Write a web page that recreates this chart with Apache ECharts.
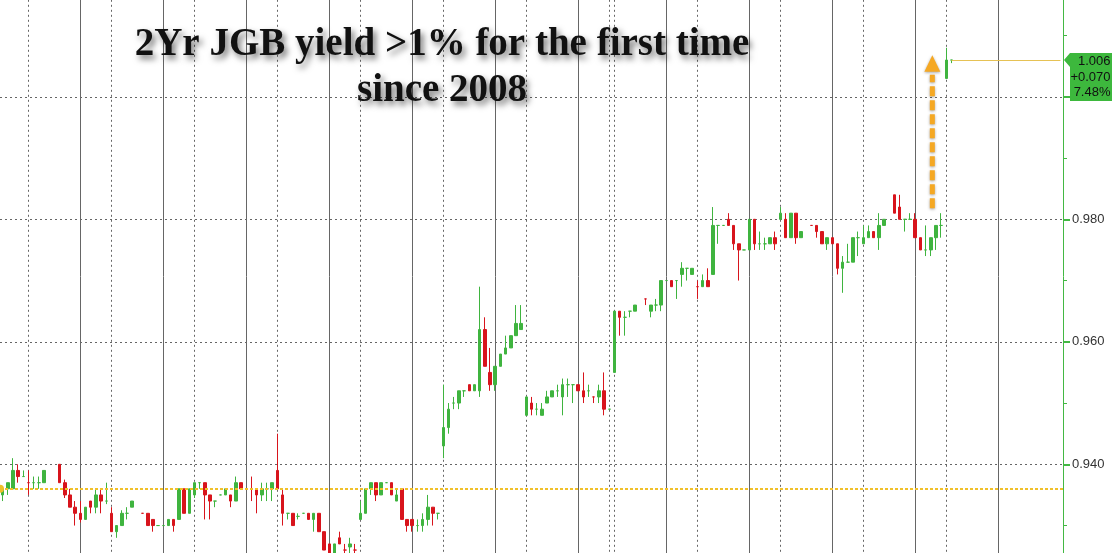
<!DOCTYPE html>
<html>
<head>
<meta charset="utf-8">
<script src="https://cdn.jsdelivr.net/npm/echarts@6/dist/echarts.min.js"></script>
<style>
html,body{margin:0;padding:0;background:#fff;}
#c{width:1112px;height:553px;}
</style>
</head>
<body>
<div id="c"></div>
<script>
// ---- data (2Yr JGB yield, intraday bars) : [open, close, low, high] ----
const ohlc = [
[0.935,0.936,0.934,0.936],[0.936,0.937,0.935,0.937],[0.936,0.939,0.936,0.941],[0.939,0.938,0.937,0.940],
[0.938,0.938,0.938,0.939],[0.937,0.937,0.935,0.939],[0.937,0.937,0.936,0.938],[0.937,0.937,0.936,0.938],
[0.937,0.939,0.937,0.939],null,null,[0.940,0.937,0.937,0.940],
[0.937,0.935,0.9345,0.9375],[0.935,0.933,0.933,0.936],[0.933,0.932,0.930,0.934],[0.932,0.931,0.9305,0.934],
[0.931,0.933,0.931,0.933],[0.934,0.933,0.932,0.934],[0.933,0.935,0.932,0.936],[0.935,0.934,0.932,0.936],
[0.934,0.934,0.9335,0.937],[0.932,0.929,0.929,0.933],[0.929,0.930,0.928,0.930],[0.930,0.932,0.930,0.9325],
[0.932,0.932,0.931,0.933],[0.933,0.934,0.933,0.934],null,[0.932,0.932,0.932,0.932],
[0.932,0.930,0.930,0.932],[0.931,0.930,0.929,0.931],[0.930,0.930,0.930,0.930],[0.930,0.930,0.930,0.930],
[0.930,0.931,0.930,0.931],[0.931,0.930,0.929,0.931],[0.931,0.936,0.931,0.936],[0.936,0.932,0.932,0.936],
[0.932,0.936,0.932,0.936],[0.935,0.937,0.9345,0.937],[0.937,0.937,0.936,0.937],[0.937,0.935,0.931,0.937],
[0.935,0.934,0.931,0.935],[0.934,0.934,0.933,0.934],[0.935,0.935,0.935,0.935],[0.935,0.936,0.935,0.936],
[0.935,0.934,0.933,0.935],[0.934,0.937,0.934,0.938],[0.937,0.936,0.936,0.937],null,
[0.936,0.936,0.934,0.938],[0.936,0.935,0.932,0.936],[0.935,0.936,0.934,0.937],[0.936,0.936,0.934,0.937],
[0.936,0.937,0.934,0.937],[0.939,0.936,0.936,0.945],[0.935,0.932,0.930,0.936],[0.932,0.932,0.931,0.932],
[0.932,0.930,0.930,0.932],[0.9315,0.9315,0.931,0.932],[0.932,0.932,0.932,0.932],[0.932,0.931,0.931,0.932],
[0.931,0.932,0.929,0.932],[0.932,0.929,0.929,0.932],[0.929,0.926,0.926,0.929],[0.927,0.925,0.925,0.927],
[0.925,0.927,0.925,0.927],[0.928,0.927,0.927,0.929],[0.926,0.926,0.925,0.927],[0.9265,0.927,0.925,0.928],
[0.926,0.926,0.925,0.927],[0.931,0.932,0.931,0.934],[0.932,0.936,0.932,0.936],[0.936,0.937,0.935,0.937],
[0.937,0.935,0.934,0.937],[0.935,0.937,0.935,0.937],[0.937,0.937,0.937,0.937],[0.937,0.935,0.935,0.937],
[0.934,0.935,0.934,0.936],[0.936,0.931,0.931,0.936],[0.931,0.930,0.929,0.931],[0.931,0.930,0.929,0.931],
[0.930,0.930,0.929,0.931],[0.930,0.931,0.929,0.932],[0.931,0.933,0.930,0.935],[0.933,0.932,0.930,0.933],
[0.932,0.932,0.931,0.932],[0.943,0.946,0.941,0.953],[0.946,0.949,0.945,0.950],[0.950,0.950,0.949,0.951],
[0.950,0.952,0.949,0.952],[0.952,0.952,0.951,0.952],[0.953,0.952,0.952,0.953],[0.952,0.953,0.952,0.953],
[0.952,0.962,0.951,0.969],[0.962,0.956,0.956,0.964],[0.955,0.953,0.952,0.959],[0.953,0.956,0.952,0.956],
[0.956,0.958,0.956,0.958],[0.958,0.959,0.958,0.961],[0.959,0.961,0.959,0.961],[0.961,0.963,0.961,0.966],
[0.962,0.963,0.962,0.966],[0.948,0.951,0.948,0.951],[0.950,0.949,0.948,0.951],[0.949,0.949,0.948,0.950],
[0.948,0.949,0.948,0.950],[0.950,0.951,0.950,0.952],[0.951,0.952,0.951,0.952],[0.952,0.952,0.951,0.953],
[0.951,0.953,0.948,0.954],[0.953,0.953,0.951,0.954],[0.953,0.953,0.950,0.953],[0.953,0.952,0.952,0.953],
[0.952,0.951,0.950,0.955],[0.952,0.952,0.951,0.953],[0.951,0.951,0.950,0.951],[0.951,0.952,0.950,0.953],
[0.952,0.949,0.948,0.955],[0.949,0.949,0.949,0.949],[0.955,0.965,0.955,0.965],[0.965,0.964,0.961,0.965],
[0.964,0.964,0.961,0.965],[0.965,0.965,0.964,0.965],[0.965,0.966,0.965,0.966],null,
[0.967,0.967,0.966,0.967],[0.965,0.966,0.964,0.966],[0.966,0.966,0.965,0.967],[0.966,0.970,0.965,0.970],
[0.970,0.970,0.970,0.970],[0.970,0.969,0.969,0.970],[0.970,0.970,0.967,0.970],[0.971,0.972,0.969,0.973],
[0.972,0.972,0.970,0.972],[0.971,0.972,0.971,0.972],[0.969,0.969,0.967,0.970],[0.969,0.970,0.969,0.971],
[0.970,0.969,0.969,0.972],[0.971,0.979,0.971,0.982],[0.979,0.979,0.976,0.979],[0.979,0.979,0.979,0.979],
[0.980,0.979,0.979,0.981],[0.979,0.976,0.975,0.979],[0.976,0.975,0.970,0.976],[0.975,0.975,0.975,0.975],
[0.975,0.980,0.975,0.980],[0.980,0.976,0.975,0.980],[0.976,0.976,0.975,0.978],[0.976,0.976,0.975,0.977],
[0.976,0.977,0.976,0.977],[0.977,0.976,0.975,0.978],[0.980,0.981,0.980,0.982],[0.980,0.977,0.977,0.981],
[0.977,0.981,0.977,0.981],[0.981,0.977,0.976,0.981],[0.977,0.978,0.977,0.978],null,
[0.979,0.979,0.979,0.979],[0.979,0.978,0.977,0.979],[0.978,0.976,0.976,0.978],[0.976,0.977,0.975,0.977],
[0.977,0.976,0.976,0.977],[0.976,0.972,0.971,0.976],[0.972,0.973,0.968,0.974],[0.973,0.973,0.973,0.976],
[0.973,0.977,0.973,0.977],[0.977,0.977,0.974,0.978],[0.976,0.977,0.976,0.979],[0.977,0.978,0.977,0.979],
[0.978,0.977,0.977,0.978],[0.977,0.979,0.975,0.981],[0.979,0.980,0.979,0.980],null,
[0.984,0.981,0.981,0.984],[0.982,0.980,0.980,0.984],[0.980,0.980,0.978,0.980],[0.980,0.980,0.980,0.981],
[0.980,0.977,0.977,0.981],[0.977,0.975,0.975,0.977],[0.975,0.975,0.974,0.979],[0.975,0.977,0.974,0.977],
[0.977,0.979,0.975,0.979],[0.979,0.979,0.977,0.981],[1.003,1.006,1.003,1.008],[1.006,1.006,1.0055,1.006]
];
const slotCount = 205;                       // bar slots on the time axis (incl. empty future slots)
const categories = Array.from({length: slotCount}, (_, i) => 'bar' + i);
const solidGridIdx  = [15,31,47,63,79,95,111,128,144,160,176,192];
const dottedGridIdx = [5,21,37,53,69,85,101,117,118,134,150,166,182];
const prevClose = 0.936;
const lastValue = 1.006;
const lastIdx = 183;
const priceBoxLines = ['1.006', '+0.070', '7.48%'];
const titleLines = ['2Yr JGB yield >1% for the first time', 'since 2008'];
const arrowSlot = 179.3, arrowFrom = 0.9818, arrowShaftTop = 1.0036, arrowHeadBase = 1.0041, arrowTip = 1.0068;
const yMin = 0.92, yMax = 1.02, yStep = 0.02;

// ---- chart ----
const GREEN = '#3fb43f', RED = '#d8141c', AXISG = '#43b843', GRID = '#666666';
const gridRight = 49;
const chart = echarts.init(document.getElementById('c'), null, {renderer: 'canvas'});
const candleData = ohlc.map(d => d ? d : ['-', '-', '-', '-']);
const vLines = solidGridIdx.map(i => ({xAxis: i, lineStyle: {color: GRID, width: 1, type: 'solid'}}))
  .concat(dottedGridIdx.map(i => ({xAxis: i, lineStyle: {color: GRID, width: 1, type: [2, 3]}})));

chart.setOption({
  animation: false,
  backgroundColor: '#ffffff',
  grid: {left: 0, right: gridRight, top: -25.7, bottom: -33.8, containLabel: false, outerBoundsMode: 'none'},
  xAxis: {
    type: 'category', data: categories, boundaryGap: true,
    axisLine: {show: false}, axisTick: {show: false}, axisLabel: {show: false}, splitLine: {show: false}
  },
  yAxis: {
    type: 'value', position: 'right', min: yMin, max: yMax, interval: yStep,
    axisLine: {show: true, lineStyle: {color: AXISG, width: 1}},
    axisTick: {show: true, length: 7, lineStyle: {color: AXISG, width: 2}},
    minorTick: {show: true, splitNumber: 2, length: 4, lineStyle: {color: AXISG, width: 1}},
    axisLabel: {color: '#333', fontSize: 13, fontFamily: 'Liberation Sans, Arial, sans-serif', margin: 9,
      formatter: v => v.toFixed(3)},
    splitLine: {show: true, lineStyle: {color: GRID, width: 1, type: [2, 3]}}
  },
  series: [
    {
      type: 'line', data: [], silent: true, z: 1,
      markLine: {silent: true, z: 1, precision: 4, symbol: ['none', 'none'], label: {show: false}, animation: false, data: vLines}
    },
    {
      type: 'candlestick', z: 3, data: candleData, barWidth: 3,
      itemStyle: {color: GREEN, color0: RED, borderColor: GREEN, borderColor0: RED, borderWidth: 1},
      markLine: {
        silent: true, animation: false, label: {show: false}, z: 4, precision: 4,
        symbol: ['circle', 'none'], symbolSize: 8,
        data: [
          {yAxis: prevClose, lineStyle: {color: '#f0c02a', width: 2, type: [3, 2]}, itemStyle: {color: '#f0b428'}},
          [{coord: [lastIdx, lastValue], symbol: 'none', lineStyle: {color: '#e6c255', width: 1, type: 'solid'}},
           {coord: [slotCount - 1, lastValue], symbol: 'none'}]
        ]
      }
    }
  ]
});

// ---- annotations positioned through the chart's own scales ----
const W = chart.getWidth();
const axisX = W - gridRight;
const xOf = f => {
  const a = Math.floor(f), b = Math.ceil(f);
  const pa = chart.convertToPixel({xAxisIndex: 0}, a);
  const pb = chart.convertToPixel({xAxisIndex: 0}, b);
  return pa + (pb - pa) * (f - a);
};
const yOf = v => chart.convertToPixel({yAxisIndex: 0}, v);

const ax = xOf(arrowSlot);
const ORANGE = '#f5a823';
const py = yOf(lastValue);
const textShadow = {textShadowColor: 'rgba(0,0,0,0.55)', textShadowBlur: 6, textShadowOffsetX: 3, textShadowOffsetY: 4};
const titleFont = 'bold 39px "Liberation Serif", "Times New Roman", serif';

const graphics = [
  {type: 'text', z: 100, x: 442, y: 45, style: Object.assign({text: titleLines[0], font: titleFont, fill: '#111',
    align: 'center', verticalAlign: 'middle', textAlign: 'center', textVerticalAlign: 'middle'}, textShadow)},
  {type: 'text', z: 100, x: 442, y: 91.3, style: Object.assign({text: titleLines[1], font: titleFont, fill: '#111',
    align: 'center', verticalAlign: 'middle', textAlign: 'center', textVerticalAlign: 'middle'}, textShadow)},
  {type: 'line', z: 90, shape: {x1: ax, y1: yOf(arrowFrom), x2: ax, y2: yOf(arrowShaftTop)},
    style: {stroke: ORANGE, lineWidth: 5, lineDash: [10, 4], shadowBlur: 3, shadowColor: 'rgba(0,0,0,0.35)', shadowOffsetY: 1}},
  {type: 'polygon', z: 90, shape: {points: [[ax, yOf(arrowTip)], [ax - 8, yOf(arrowHeadBase)], [ax + 8, yOf(arrowHeadBase)]]},
    style: {fill: ORANGE, shadowBlur: 3, shadowColor: 'rgba(0,0,0,0.35)', shadowOffsetY: 1}},
  {type: 'polygon', z: 95, shape: {points: [[axisX + 1, py], [axisX + 7, py - 7], [W, py - 7], [W, py + 41], [axisX + 7, py + 41], [axisX + 7, py + 7]]},
    style: {fill: '#3db83d'}}
];
priceBoxLines.forEach((t, k) => {
  graphics.push({type: 'text', z: 96, x: W - 1.5, y: py + 1.7 + k * 15.3,
    style: {text: t, font: '13px "Liberation Sans", Arial, sans-serif', fill: '#111',
      align: 'right', verticalAlign: 'middle', textAlign: 'right', textVerticalAlign: 'middle'}});
});
chart.setOption({graphic: graphics});
</script>
</body>
</html>
